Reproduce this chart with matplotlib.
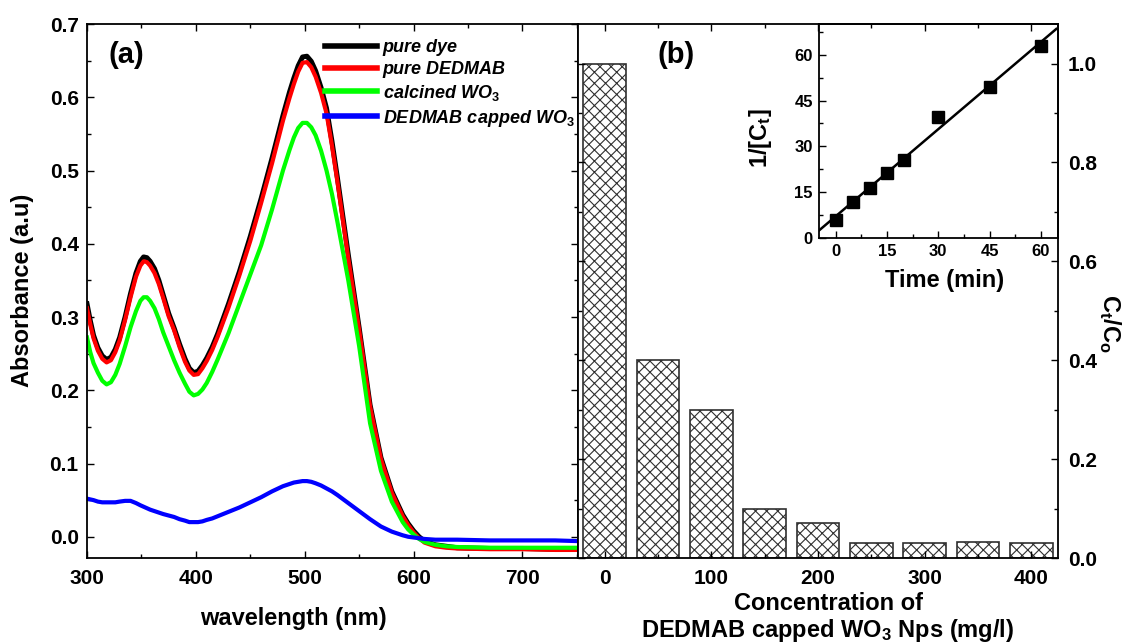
import matplotlib
matplotlib.use('Agg')
import matplotlib.pyplot as plt
import numpy as np
from matplotlib.ticker import MultipleLocator, FixedLocator, FormatStrFormatter

plt.rcParams['font.family'] = ['Liberation Sans', 'DejaVu Sans']
plt.rcParams['font.weight'] = 'bold'
plt.rcParams['mathtext.fontset'] = 'custom'
plt.rcParams['mathtext.rm'] = 'Liberation Sans:bold'
plt.rcParams['mathtext.it'] = 'Liberation Sans:italic:bold'
plt.rcParams['mathtext.bf'] = 'Liberation Sans:bold'
plt.rcParams['hatch.linewidth'] = 0.8

# (a) UV-vis spectra
wavelength = [300, 303, 306, 310, 314, 318, 322, 326, 330, 335, 340, 345, 349, 352, 355,
              358, 362, 366, 370, 375, 380, 385, 390, 394, 398, 402, 406, 410, 415, 420,
              430, 440, 450, 460, 470, 480, 486, 490, 494, 498, 502, 506, 510, 515, 520,
              525, 530, 540, 550, 560, 570, 580, 590, 595, 600, 605, 610, 620, 630, 640,
              670, 700, 730, 752]
pure_dye = [0.318, 0.295, 0.275, 0.258, 0.247, 0.242, 0.245, 0.256, 0.272, 0.300, 0.332,
            0.360, 0.376, 0.382, 0.381, 0.376, 0.366, 0.350, 0.330, 0.305, 0.285, 0.263,
            0.243, 0.230, 0.224, 0.226, 0.234, 0.244, 0.259, 0.277, 0.318, 0.362, 0.410,
            0.462, 0.517, 0.575, 0.607, 0.626, 0.643, 0.655, 0.656, 0.649, 0.636, 0.613,
            0.585, 0.540, 0.490, 0.385, 0.285, 0.180, 0.108, 0.062, 0.030, 0.018, 0.008,
            0.000, -0.006, -0.011, -0.013, -0.015, -0.016, -0.016, -0.017, -0.017]
pure_dedmab = [0.312, 0.290, 0.271, 0.254, 0.243, 0.238, 0.241, 0.252, 0.268, 0.296, 0.327,
               0.355, 0.370, 0.376, 0.375, 0.370, 0.360, 0.345, 0.326, 0.301, 0.282, 0.259,
               0.239, 0.227, 0.221, 0.222, 0.230, 0.240, 0.255, 0.273, 0.313, 0.357, 0.404,
               0.456, 0.510, 0.568, 0.599, 0.618, 0.635, 0.647, 0.648, 0.641, 0.628, 0.606,
               0.578, 0.534, 0.485, 0.380, 0.282, 0.178, 0.106, 0.060, 0.028, 0.016, 0.006,
               -0.002, -0.008, -0.013, -0.015, -0.016, -0.017, -0.017, -0.018, -0.018]
calcined_wo3 = [0.272, 0.252, 0.237, 0.224, 0.213, 0.208, 0.211, 0.221, 0.236, 0.260, 0.286,
                0.308, 0.322, 0.327, 0.327, 0.322, 0.312, 0.297, 0.279, 0.260, 0.241, 0.224,
                0.209, 0.198, 0.193, 0.195, 0.201, 0.210, 0.225, 0.242, 0.278, 0.318, 0.358,
                0.398, 0.447, 0.500, 0.528, 0.545, 0.558, 0.565, 0.565, 0.559, 0.548, 0.527,
                0.500, 0.468, 0.430, 0.350, 0.260, 0.155, 0.090, 0.048, 0.020, 0.010, 0.003,
                -0.003, -0.007, -0.011, -0.013, -0.014, -0.015, -0.015, -0.015, -0.015]
capped_wo3 = [0.052, 0.051, 0.050, 0.048, 0.047, 0.047, 0.047, 0.047, 0.048, 0.049, 0.049,
              0.046, 0.043, 0.041, 0.039, 0.037, 0.035, 0.033, 0.031, 0.029, 0.027, 0.024,
              0.022, 0.020, 0.020, 0.020, 0.021, 0.023, 0.025, 0.028, 0.034, 0.040, 0.047,
              0.054, 0.062, 0.069, 0.072, 0.074, 0.075, 0.076, 0.076, 0.075, 0.073, 0.070,
              0.066, 0.062, 0.057, 0.046, 0.035, 0.024, 0.014, 0.007, 0.002, 0.000, -0.001,
              -0.002, -0.003, -0.004, -0.004, -0.004, -0.005, -0.005, -0.005, -0.006]

# (b) C/C0 vs catalyst loading
concentration = ['0', '50', '100', '150', '200', '250', '300', '350', '400']
ratio = [1.0, 0.40, 0.30, 0.10, 0.07, 0.03, 0.03, 0.032, 0.03]

# inset: second-order kinetics
time_min = [0, 5, 10, 15, 20, 30, 45, 60]
inv_c = [6.0, 11.9, 16.3, 21.3, 25.7, 39.5, 49.5, 62.7]

W, H = 1133, 644
fig = plt.figure(figsize=(W / 100, H / 100), dpi=100)


def fx(px):
    return px / W


def fy(py):
    return 1 - py / H


def style_ticks(ax, size=15):
    ax.tick_params(which='both', direction='in', width=1.0, labelsize=size)
    ax.tick_params(which='major', length=5)
    ax.tick_params(which='minor', length=3)
    for s in ax.spines.values():
        s.set_linewidth(1.3)


# ---- panel (a)
ax1 = fig.add_axes([fx(87), fy(558), fx(578) - fx(87), fy(24) - fy(558)])
ax1.plot(wavelength, pure_dye, color='black', lw=3.6, label='pure dye')
ax1.plot(wavelength, pure_dedmab, color='#ff0000', lw=3.0, label='pure DEDMAB')
ax1.plot(wavelength, calcined_wo3, color='#00ff00', lw=3.0, label='calcined WO$_{\\mathit{3}}$')
ax1.plot(wavelength, capped_wo3, color='#0000ff', lw=3.0, label='DEDMAB capped WO$_{\\mathit{3}}$')
ax1.set_xlim(300, 751)
ax1.set_ylim(-0.029, 0.7)
ax1.xaxis.set_major_locator(MultipleLocator(100))
ax1.xaxis.set_minor_locator(MultipleLocator(50))
ax1.yaxis.set_major_locator(MultipleLocator(0.1))
ax1.yaxis.set_minor_locator(MultipleLocator(0.05))
ax1.yaxis.set_major_formatter(FormatStrFormatter('%.1f'))
style_ticks(ax1)
ax1.tick_params(which='both', top=True, right=True)
ax1.tick_params(axis='y', pad=6)
ax1.tick_params(axis='x', pad=8)

leg = ax1.legend(loc='upper left', bbox_to_anchor=(fx(325), fy(39)),
                 bbox_transform=fig.transFigure, frameon=False, borderpad=0,
                 borderaxespad=0, handlelength=2.9, handletextpad=0.3,
                 labelspacing=0.27,
                 prop={'family': 'Liberation Sans', 'weight': 'bold',
                       'style': 'italic', 'size': 13})
for line in leg.get_lines():
    line.set_linewidth(4)

fig.text(fx(126), fy(55), '(a)', fontsize=21, fontweight='bold', ha='center', va='center')
fig.text(fx(23), fy(290), 'Absorbance (a.u)', fontsize=17, fontweight='bold',
         rotation=90, ha='center', va='center')
fig.text(fx(293), fy(619), 'wavelength (nm)', fontsize=17, fontweight='bold',
         ha='center', va='center')

# ---- panel (b)
ax2 = fig.add_axes([fx(578), fy(558), fx(1058) - fx(578), fy(24) - fy(558)])
pos = np.arange(len(concentration))
ax2.bar(pos, ratio, width=0.8, color='white', edgecolor='#303030', lw=1.2, hatch='xxx')
ax2.set_xlim(-0.5, 8.5)
ax2.set_ylim(0, 1.08)
ax2.set_xticks(pos[::2])
ax2.set_xticklabels(concentration[::2])
ax2.xaxis.set_minor_locator(FixedLocator(pos[1::2]))
ax2.yaxis.set_major_locator(MultipleLocator(0.2))
ax2.yaxis.set_minor_locator(MultipleLocator(0.1))
ax2.yaxis.set_major_formatter(FormatStrFormatter('%.1f'))
style_ticks(ax2)
ax2.tick_params(which='both', top=True, left=True, right=True,
                labelleft=False, labelright=True)
ax2.tick_params(axis='y', pad=7)
ax2.tick_params(axis='x', pad=8)

fig.text(fx(676), fy(55), '(b)', fontsize=21, fontweight='bold', ha='center', va='center')
fig.text(fx(828), fy(603), 'Concentration of', fontsize=17, fontweight='bold',
         ha='center', va='center')
fig.text(fx(828), fy(630), 'DEDMAB capped WO$_3$ Nps (mg/l)', fontsize=17,
         fontweight='bold', ha='center', va='center')
fig.text(fx(1110), fy(323), 'C$_\\mathrm{t}$/C$_\\mathrm{o}$', fontsize=17,
         fontweight='bold', rotation=270, ha='center', va='center')

# ---- inset
ax3 = fig.add_axes([fx(818.5), fy(238.3), fx(1058) - fx(818.5), fy(24) - fy(238.3)])
ax3.patch.set_alpha(0)
slope, intercept = np.polyfit(time_min, inv_c, 1)
tt = np.array([-5, 64.5])
ax3.plot(tt, slope * tt + intercept, color='black', lw=1.8)
ax3.plot(time_min, inv_c, 's', color='black', ms=8)
ax3.set_xlim(-5, 65)
ax3.set_ylim(0, 70)
ax3.xaxis.set_major_locator(MultipleLocator(15))
ax3.xaxis.set_minor_locator(MultipleLocator(7.5))
ax3.yaxis.set_major_locator(MultipleLocator(15))
ax3.yaxis.set_minor_locator(MultipleLocator(7.5))
style_ticks(ax3, size=12)
ax3.tick_params(axis='both', pad=4)
fig.text(fx(760), fy(138), '1/[C$_\\mathrm{t}$]', fontsize=17, fontweight='bold',
         rotation=90, ha='center', va='center')
fig.text(fx(945), fy(281), 'Time (min)', fontsize=17, fontweight='bold',
         ha='center', va='center')

fig.savefig('out.png', dpi=100)
